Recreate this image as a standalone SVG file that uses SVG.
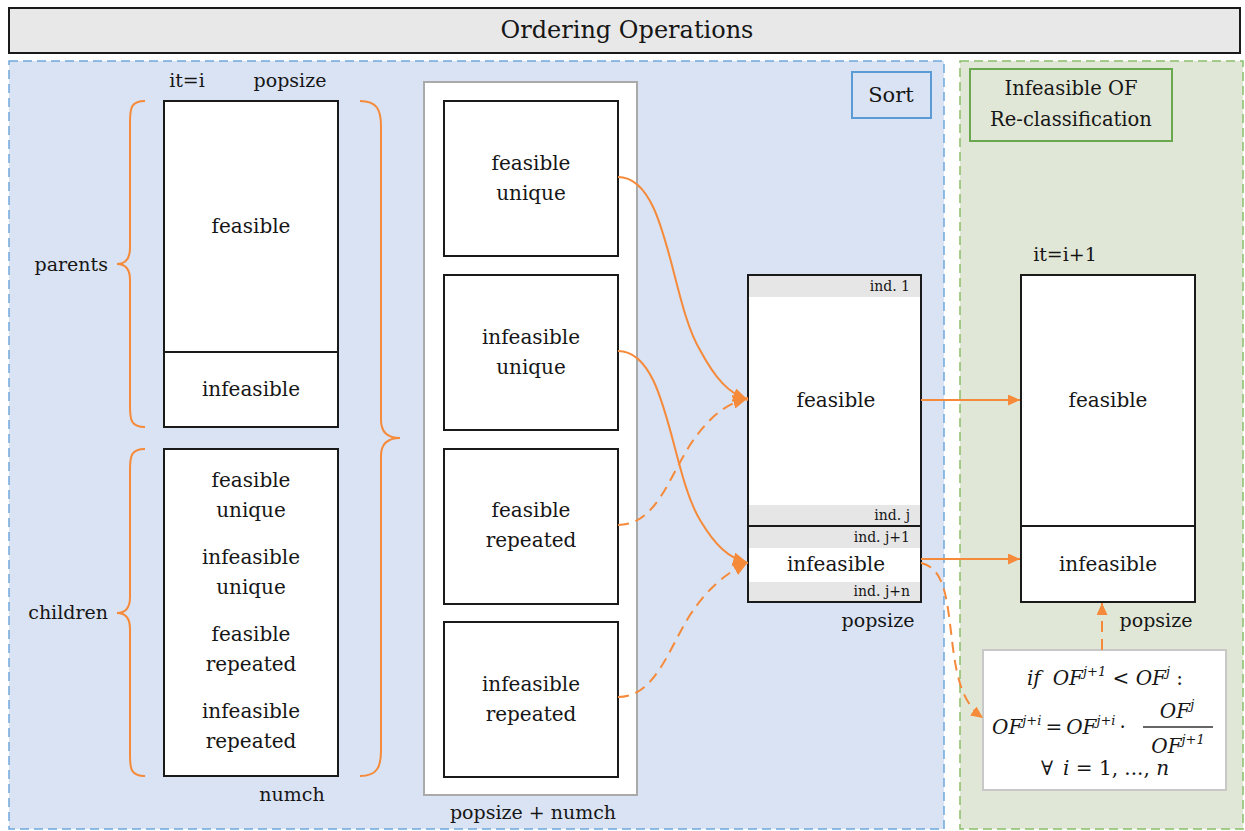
<svg xmlns="http://www.w3.org/2000/svg" width="1245" height="831" viewBox="0 0 1245 831">
<defs>
<style>
text{font-family:'DejaVu Serif','Liberation Serif',serif;fill:#161616;}
.c{text-anchor:middle;dominant-baseline:central;font-size:20px;}
.l{font-size:19px;dominant-baseline:central;}
.s{font-size:14px;text-anchor:end;dominant-baseline:central;}
.box{fill:#fff;stroke:#1a1a1a;stroke-width:2;}
.band{fill:#e6e6e6;}
.br{fill:none;stroke:#f58a3a;stroke-width:2;}
.con{fill:none;stroke:#f58a3a;stroke-width:2;}
.dash{stroke-dasharray:11 7;}
.m{font-style:italic;font-size:20px;}
.sup{font-style:italic;font-size:13px;}
</style>
<marker id="ah" markerUnits="userSpaceOnUse" markerWidth="16" markerHeight="14" refX="15" refY="7" orient="auto">
<path d="M0,0 L15,7 L0,14 z" fill="#f58a3a"/>
</marker>
<marker id="ahs" markerUnits="userSpaceOnUse" markerWidth="13" markerHeight="11" refX="12" refY="5.5" orient="auto">
<path d="M0,0 L12,5.5 L0,11 z" fill="#f58a3a"/>
</marker>
</defs>
<rect width="1245" height="831" fill="#fff"/>

<g id="title">
<rect x="9" y="8" width="1231" height="45" fill="#e8e8e8" stroke="#1a1a1a" stroke-width="2"/>
<text x="627" y="30" class="c" style="font-size:24px">Ordering Operations</text>
</g>

<g id="sort-panel">
<rect x="9" y="61" width="935" height="768" fill="#dae3f3" stroke="#6fa8dc" stroke-width="1.5" stroke-dasharray="9 5"/>
<rect x="852" y="72" width="79" height="46" fill="#dae3f3" stroke="#5b9bd5" stroke-width="2"/>
<text x="891" y="95" class="c" style="font-size:21px">Sort</text>
</g>

<g id="reclass-panel">
<rect x="960" y="61" width="283" height="768" fill="#e1e7d6" stroke="#8cbf6a" stroke-width="1.5" stroke-dasharray="9 5"/>
<rect x="970" y="69" width="202" height="72" fill="#e1e7d6" stroke="#6aa84f" stroke-width="2"/>
<text x="1071" y="88" class="c" style="font-size:19.5px">Infeasible OF</text>
<text x="1071" y="119" class="c" style="font-size:19.5px">Re-classification</text>
</g>

<g id="parents">
<text x="187" y="80" class="c" style="font-size:19px">it=i</text>
<text x="290" y="80" class="c" style="font-size:19px">popsize</text>
<rect x="164" y="101" width="174" height="326" class="box"/>
<line x1="164" y1="352" x2="338" y2="352" stroke="#1a1a1a" stroke-width="2"/>
<text x="251" y="226" class="c">feasible</text>
<text x="251" y="389" class="c">infeasible</text>
</g>

<g id="children">
<rect x="164" y="449" width="174" height="327" class="box"/>
<text x="251" y="480" class="c">feasible</text>
<text x="251" y="510" class="c">unique</text>
<text x="251" y="557" class="c">infeasible</text>
<text x="251" y="587" class="c">unique</text>
<text x="251" y="634" class="c">feasible</text>
<text x="251" y="664" class="c">repeated</text>
<text x="251" y="711" class="c">infeasible</text>
<text x="251" y="741" class="c">repeated</text>
<text x="292" y="794" class="c" style="font-size:19px">numch</text>
</g>

<g id="braces">
<path class="br" d="M145,101 C131,101 130,108 130,122 L130,248 C130,258 126,264 117,264 C126,264 130,270 130,280 L130,406 C130,420 131,427 145,427"/>
<text x="108" y="264" class="l" text-anchor="end">parents</text>
<path class="br" d="M145,449 C131,449 130,456 130,470 L130,597 C130,607 126,613 117,613 C126,613 130,619 130,629 L130,755 C130,769 131,776 145,776"/>
<text x="108" y="612" class="l" text-anchor="end">children</text>
<path class="br" d="M360,101 C377,101 381,110 381,126 L381,420 C381,432 388,438 400,438 C388,438 381,444 381,456 L381,751 C381,767 377,776 360,776"/>
</g>

<g id="pool">
<rect x="424" y="82" width="213" height="713" fill="#fff" stroke="#aaa" stroke-width="2"/>
<text x="533" y="812" class="c" style="font-size:19px">popsize + numch</text>
</g>
<g id="feasible-unique">
<rect x="444" y="101" width="174" height="155" class="box"/>
<text x="531" y="163" class="c">feasible</text>
<text x="531" y="193" class="c">unique</text>
</g>
<g id="infeasible-unique">
<rect x="444" y="275" width="174" height="155" class="box"/>
<text x="531" y="337" class="c">infeasible</text>
<text x="531" y="367" class="c">unique</text>
</g>
<g id="feasible-repeated">
<rect x="444" y="449" width="174" height="155" class="box"/>
<text x="531" y="510" class="c">feasible</text>
<text x="531" y="540" class="c">repeated</text>
</g>
<g id="infeasible-repeated">
<rect x="444" y="622" width="174" height="155" class="box"/>
<text x="531" y="684" class="c">infeasible</text>
<text x="531" y="714" class="c">repeated</text>
</g>

<g id="sorted">
<rect x="748" y="275" width="173" height="327" class="box"/>
<rect x="749" y="276" width="171" height="21" class="band"/>
<rect x="749" y="505" width="171" height="20" class="band"/>
<rect x="749" y="527" width="171" height="21" class="band"/>
<rect x="749" y="582" width="171" height="19" class="band"/>
<rect x="748" y="275" width="173" height="327" fill="none" stroke="#1a1a1a" stroke-width="2"/>
<line x1="748" y1="526" x2="921" y2="526" stroke="#1a1a1a" stroke-width="2"/>
<text x="910" y="286" class="s">ind. 1</text>
<text x="910" y="515" class="s">ind. j</text>
<text x="910" y="537" class="s">ind. j+1</text>
<text x="910" y="591" class="s">ind. j+n</text>
<text x="836" y="400" class="c">feasible</text>
<text x="836" y="564" class="c">infeasible</text>
<text x="878" y="620" class="c" style="font-size:19px">popsize</text>
</g>

<g id="next-gen">
<text x="1065" y="254" class="c" style="font-size:19px">it=i+1</text>
<rect x="1021" y="275" width="174" height="327" class="box"/>
<line x1="1021" y1="526" x2="1195" y2="526" stroke="#1a1a1a" stroke-width="2"/>
<text x="1108" y="400" class="c">feasible</text>
<text x="1108" y="564" class="c">infeasible</text>
<text x="1156" y="620" class="c" style="font-size:19px">popsize</text>
</g>

<g id="formula">
<rect x="983" y="650" width="243" height="140" fill="#fff" stroke="#c8c8c8" stroke-width="2"/>
<text x="1105" y="685" class="m" text-anchor="middle">if<tspan dx="12">OF</tspan><tspan class="sup" dy="-9">j+1</tspan><tspan dy="9" style="font-style:normal"> &lt; </tspan><tspan>OF</tspan><tspan class="sup" dy="-9">j</tspan><tspan dy="9" style="font-style:normal"> :</tspan></text>
<text x="992" y="734" class="m">OF<tspan class="sup" dy="-9">j+i</tspan><tspan dy="9" style="font-style:normal" dx="4">=</tspan><tspan dx="4">OF</tspan><tspan class="sup" dy="-9">j+i</tspan><tspan dy="9" style="font-style:normal" dx="4">·</tspan></text>
<text x="1177" y="718" class="m" text-anchor="middle">OF<tspan class="sup" dy="-9">j</tspan></text>
<line x1="1143" y1="727" x2="1213" y2="727" stroke="#333" stroke-width="1.3"/>
<text x="1178" y="753" class="m" text-anchor="middle">OF<tspan class="sup" dy="-9">j+1</tspan></text>
<text x="1105" y="775" class="m" text-anchor="middle"><tspan style="font-style:normal">∀</tspan><tspan dx="10">i</tspan><tspan style="font-style:normal"> = 1, ..., </tspan>n</text>
</g>

<g id="connectors">
<path class="con" d="M618,177 C668,177 670,300 700,350 C715,378 728,393 748,400" marker-end="url(#ah)"/>
<path class="con" d="M618,351 C668,351 670,470 700,520 C715,545 728,558 748,563" marker-end="url(#ah)"/>
<path class="con dash" d="M618,525 C655,525 668,480 690,445 C708,418 725,404 748,398" marker-end="url(#ah)"/>
<path class="con dash" d="M618,697 C655,697 668,650 690,615 C708,588 725,574 748,562" marker-end="url(#ah)"/>
<path class="con" d="M921,400 L1020,400" marker-end="url(#ahs)"/>
<path class="con" d="M921,559 L1020,559" marker-end="url(#ahs)"/>
<path class="con dash" d="M921,563 C945,568 947,600 952,640 C957,685 965,705 983,718" marker-end="url(#ahs)"/>
<path class="con dash" d="M1102,650 L1102,603" marker-end="url(#ahs)"/>
</g>
</svg>
